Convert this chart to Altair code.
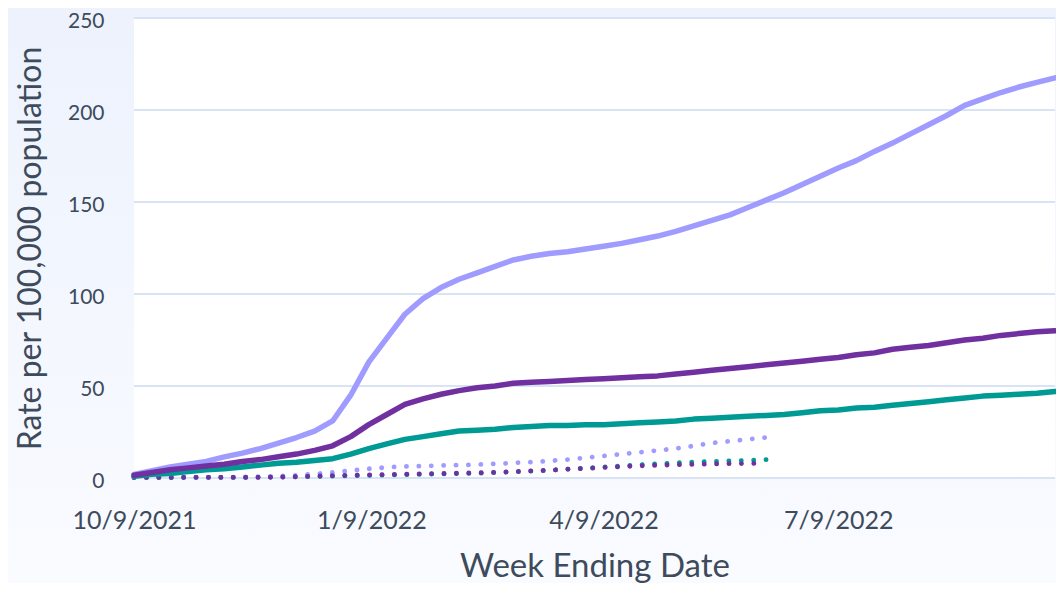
import altair as alt
import pandas as pd

# ---------------- data ----------------
dates = pd.date_range("2021-10-09", periods=52, freq="7D").strftime("%Y/%m/%d").tolist()

solid_light = [2, 4, 6, 7.5, 9, 11.5, 13.5, 16, 19, 22, 25.5, 31, 45, 63, 76, 89, 97.5, 103.5,
               108, 111.5, 115, 118.5, 120.5, 122, 123, 124.5, 126, 127.5, 129.5, 131.5, 134,
               137, 140, 143, 147, 151, 155, 159.5, 164, 168.5, 172.5, 177.5, 182, 187, 192,
               197, 202.5, 206, 209.5, 212.5, 215, 217.5]
solid_dark = [1.5, 3, 4.5, 5.5, 6.5, 7.5, 9, 10, 11.5, 13, 15, 17.5, 22.5, 29, 34.5, 40, 43,
              45.5, 47.5, 49, 50, 51.5, 52, 52.5, 53, 53.5, 54, 54.5, 55, 55.5, 56.5, 57.5,
              58.5, 59.5, 60.5, 61.5, 62.5, 63.5, 64.5, 65.5, 67, 68, 70, 71, 72, 73.5, 75, 76,
              77.5, 78.5, 79.5, 80]
solid_teal = [1, 2, 2.5, 3.5, 4.5, 5, 6, 7, 8, 8.5, 9.5, 10.5, 13, 16, 18.5, 21, 22.5, 24,
              25.5, 26, 26.5, 27.5, 28, 28.5, 28.5, 29, 29, 29.5, 30, 30.5, 31, 32, 32.5, 33,
              33.5, 34, 34.5, 35.5, 36.5, 37, 38, 38.5, 39.5, 40.5, 41.5, 42.5, 43.5, 44.5, 45,
              45.5, 46, 47]
dotted_light = [0.5, 0.5, 0.5, 0.5, 0.5, 0.5, 0.5, 0.7, 1, 1.5, 2.2, 3, 4, 5, 5.8, 6.3, 6.5,
                6.8, 7, 7.3, 7.7, 8.2, 8.7, 9.3, 10, 11, 12, 13, 14, 15, 16, 17.5, 19, 20, 21, 22]
dotted_dark = [0.3, 0.3, 0.3, 0.3, 0.3, 0.3, 0.3, 0.3, 0.5, 0.7, 1, 1.3, 1.5, 1.7, 1.9, 2.1,
               2.3, 2.4, 2.6, 2.8, 3.1, 3.5, 3.9, 4.3, 4.8, 5.2, 5.7, 6.2, 6.6, 6.9, 7.2, 7.4,
               7.6, 7.8, 7.9, 8]
dotted_teal = [0.2, 0.2, 0.2, 0.3, 0.3, 0.3, 0.3, 0.4, 0.5, 0.6, 0.8, 1, 1.2, 1.4, 1.6, 1.8,
               2, 2.2, 2.4, 2.6, 2.9, 3.3, 3.7, 4.2, 4.8, 5.4, 6, 6.6, 7.2, 7.7, 8.2, 8.6, 9,
               9.3, 9.6, 10]

y_ticks = [0, 50, 100, 150, 200, 250]

# ---------------- style ----------------
W, H = 921, 460
PAD = {"left": 126, "top": 10, "right": 1, "bottom": 105}
FONT = "Lato"
TEXT = "#3d4b5c"
C_LIGHT = "#a09cff"
C_DARK = "#7030a0"
C_TEAL = "#009a94"

x_scale = alt.Scale(domain=[alt.DateTime(year=2021, month=10, date=9),
                            alt.DateTime(year=2022, month=10, date=1)], nice=False)
y_scale = alt.Scale(domain=[0, 250], nice=False)

x_axis = alt.Axis(
    values=[alt.DateTime(year=2021, month=10, date=9), alt.DateTime(year=2022, month=1, date=9),
            alt.DateTime(year=2022, month=4, date=9), alt.DateTime(year=2022, month=7, date=9)],
    format="%-m/%-d/%Y", grid=False, domain=False, ticks=False, labelFlush=False,
    labelFont=FONT, labelFontSize=25, labelColor=TEXT, labelPadding=30,
    title="Week Ending Date", titleFont=FONT, titleFontSize=33, titleFontWeight="normal",
    titleColor=TEXT, titleY=98, titleBaseline="alphabetic", zindex=1)
y_axis = alt.Axis(
    values=y_ticks, grid=False, domain=False, ticks=False,
    labelFont=FONT, labelFontSize=21, labelColor=TEXT, labelPadding=30, labelOffset=3,
    title="Rate per 100,000 population", titleFont=FONT, titleFontSize=32,
    titleFontWeight="normal", titleColor=TEXT, titleX=-104, titleY=230,
    titleBaseline="middle", titleAlign="center", titleAngle=-90, zindex=1)

X = alt.X("date:T", scale=x_scale, axis=x_axis)
Y = alt.Y("value:Q", scale=y_scale, axis=y_axis)

gradient = alt.LinearGradient(
    gradient="linear",
    stops=[alt.GradientStop(color="#edf2fd", offset=0), alt.GradientStop(color="#f9fbff", offset=1)],
    x1=0, x2=0, y1=0, y2=1)

one = alt.Data(values=[{"k": 1}])
bg = alt.Chart(one).mark_rect(fill=gradient).encode(
    x=alt.value(-PAD["left"]), x2=alt.value(W + PAD["right"]),
    y=alt.value(-PAD["top"]), y2=alt.value(H + PAD["bottom"]))
plot_bg = alt.Chart(one).mark_rect(fill="white").encode(
    x=alt.value(0), x2=alt.value(W), y=alt.value(0), y2=alt.value(H))

grid = alt.Chart(pd.DataFrame({"value": y_ticks})).mark_rule(
    color="#d8e3f5", strokeWidth=2).encode(y=Y)


def series(vals, color, dotted):
    df = pd.DataFrame({"date": dates[:len(vals)], "value": vals})
    if dotted:
        mk = alt.Chart(df).mark_line(color=color, strokeWidth=4.8, strokeCap="round",
                                     strokeDash=[0.1, 12.3])
    else:
        mk = alt.Chart(df).mark_line(color=color, strokeWidth=5.5, strokeCap="round",
                                     strokeJoin="round")
    return mk.encode(x=X, y=Y)


chart = alt.layer(
    bg, plot_bg, grid,
    series(dotted_light, C_LIGHT, True),
    series(dotted_teal, C_TEAL, True),
    series(dotted_dark, C_DARK, True),
    series(solid_teal, C_TEAL, False),
    series(solid_light, C_LIGHT, False),
    series(solid_dark, C_DARK, False),
).properties(
    width=W, height=H,
    autosize=alt.AutoSizeParams(type="none"),
    padding=PAD,
    background="#f3f6fd",
).configure_view(strokeOpacity=0)

chart.save("out.html", embed_options={"renderer": "svg", "actions": False})
